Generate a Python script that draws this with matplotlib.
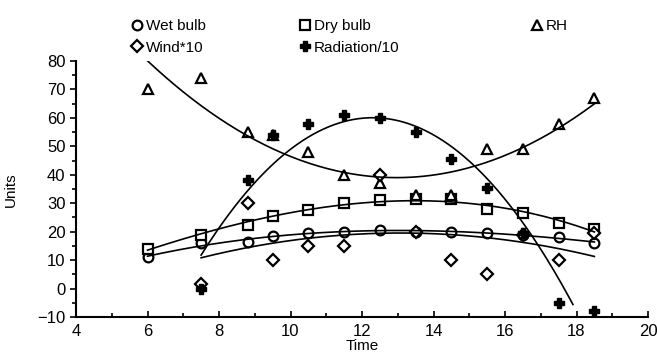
import numpy as np
import matplotlib
matplotlib.use("Agg")
import matplotlib.pyplot as plt
from matplotlib.ticker import MultipleLocator

plt.rcParams['font.family'] = ['Liberation Sans', 'DejaVu Sans']

# data
time = [6, 7.5, 8.8, 9.5, 10.5, 11.5, 12.5, 13.5, 14.5, 15.5, 16.5, 17.5, 18.5]
wet_bulb = [11, 16, 16.5, 18.5, 19.5, 20, 20.5, 20, 20, 19.5, 19, 18, 16]
dry_bulb = [14, 19, 22.5, 25.5, 27.5, 30, 31, 31.5, 31.5, 28, 26.5, 23, 21]
rh = [70, 74, 55, 54, 48, 40, 37, 33, 33, 49, 49, 58, 67]

time2 = [7.5, 8.8, 9.5, 10.5, 11.5, 12.5, 13.5, 14.5, 15.5, 16.5, 17.5, 18.5]
wind10 = [1.5, 30, 10, 15, 15, 40, 20, 10, 5, 19, 10, 19.5]
radiation10 = [0, 38, 54, 58, 61, 60, 55, 45.5, 35.5, 19.5, -5, -8]

fig = plt.figure(figsize=(6.57, 3.54), dpi=100)
ax = fig.add_axes([76/657, 1 - 317/354, (648-76)/657, (317-61)/354])

mk = dict(linestyle='none', color='black', markerfacecolor='white',
          markeredgewidth=1.6, markersize=7)
h_wet, = ax.plot(time, wet_bulb, marker='o', label='Wet bulb', **mk)
h_dry, = ax.plot(time, dry_bulb, marker='s', label='Dry bulb', **mk)
h_rh, = ax.plot(time, rh, marker='^', label='RH', **mk)
h_wind, = ax.plot(time2, wind10, marker='D', label='Wind*10',
                  **{**mk, 'markersize': 6})
h_rad, = ax.plot(time2, radiation10, marker='P', label='Radiation/10',
                 linestyle='none', color='black', markersize=7)

# fitted curves
def fit(x, y, deg, x0, x1):
    c = np.polyfit(x, y, deg)
    xs = np.linspace(x0, x1, 200)
    ax.plot(xs, np.polyval(c, xs), color='black', lw=1.2)

fit(time, wet_bulb, 3, 6, 18.5)
fit(time, dry_bulb, 3, 6, 18.5)
fit(time, rh, 2, 6, 18.5)
fit(time2, wind10, 2, 7.5, 18.5)
fit(time2, radiation10, 2, 7.5, 17.9)

ax.set_xlim(4, 20)
ax.set_ylim(-10, 80)
ax.xaxis.set_major_locator(MultipleLocator(2))
ax.xaxis.set_minor_locator(MultipleLocator(1))
ax.yaxis.set_major_locator(MultipleLocator(10))
ax.yaxis.set_minor_locator(MultipleLocator(5))
ax.spines['top'].set_visible(False)
ax.spines['right'].set_visible(False)
ax.spines['left'].set_linewidth(1.5)
ax.spines['bottom'].set_linewidth(1.5)
ax.tick_params(axis='x', which='both', direction='in', labelsize=12, pad=5)
ax.tick_params(axis='y', which='both', direction='out', labelsize=12)
ax.tick_params(which='major', length=4, width=1.2)
ax.tick_params(which='minor', length=3, width=1.2)
ax.set_xlabel('Time', fontsize=11)
ax.set_ylabel('Units', fontsize=11)
ax.xaxis.set_label_coords((362-76)/572, -(339-317)/256)
ax.yaxis.set_label_coords(-(76-18)/572, (317-190)/256)

leg_kw = dict(frameon=False, fontsize=11, handletextpad=0.1,
              handlelength=1.0, labelspacing=0.5, borderaxespad=0)
fig.legend(handles=[h_wet, h_wind], loc='upper left',
           bbox_to_anchor=(123/657, 1 - 13/354), **leg_kw)
fig.legend(handles=[h_dry, h_rad], loc='upper left',
           bbox_to_anchor=(291/657, 1 - 13/354), **leg_kw)
fig.legend(handles=[h_rh], loc='upper left',
           bbox_to_anchor=(523/657, 1 - 13/354), **leg_kw)

fig.savefig('out.png', dpi=100)
